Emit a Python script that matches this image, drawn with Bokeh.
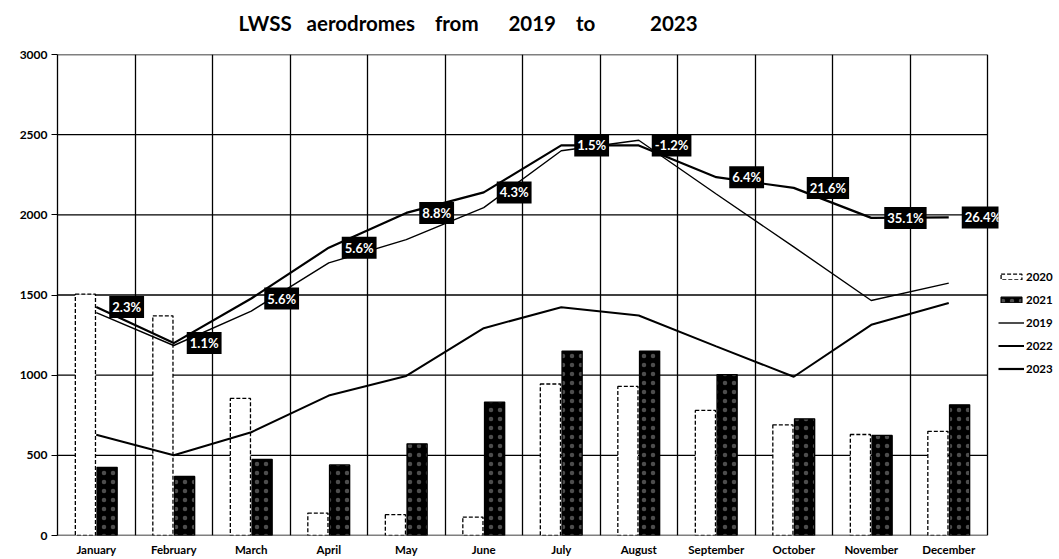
from bokeh.plotting import figure
from bokeh.models import ColumnDataSource, Range1d, FixedTicker, Legend, Title
from bokeh.transform import dodge
from bokeh.core.properties import value
from bokeh.embed import file_html
from bokeh.resources import INLINE

# ---- data ----
months = ["January", "February", "March", "April", "May", "June",
          "July", "August", "September", "October", "November", "December"]
v2020 = [1505, 1370, 855, 140, 130, 115, 945, 930, 780, 690, 630, 650]
v2021 = [425, 368, 475, 440, 572, 832, 1150, 1150, 1004, 728, 624, 815]
v2019 = [1390, 1185, 1400, 1700, 1845, 2045, 2400, 2465, 2130, 1800, 1466, 1574]
v2022 = [628, 500, 644, 873, 995, 1293, 1424, 1372, 1180, 990, 1314, 1450]
v2023 = [1425, 1200, 1478, 1795, 2012, 2140, 2433, 2433, 2235, 2168, 1981, 1984]
pct_labels = ["2.3%", "1.1%", "5.6%", "5.6%", "8.8%", "4.3%",
              "1.5%", "-1.2%", "6.4%", "21.6%", "35.1%", "26.4%"]
y_ticks = [0, 500, 1000, 1500, 2000, 2500, 3000]
SP = "\u00a0"
title_text = ("LWSS" + SP * 3 + "aerodromes" + SP * 4 + "from" + SP * 6 +
              "2019" + SP * 4 + "to" + SP * 11 + "2023")

FONT = "Lato"
n = len(months)
y_min, y_max = y_ticks[0], y_ticks[-1]
grid_px = 930           # width of the gridded area
frame_px = 941          # frame a bit wider so the last data label is not clipped
x_end = n * frame_px / grid_px

centers = [i + 0.5 for i in range(n)]
src = ColumnDataSource(dict(x=centers, month=months, v2020=v2020, v2021=v2021,
                            v2019=v2019, v2022=v2022, v2023=v2023, pct=pct_labels))
hsrc = ColumnDataSource(dict(y=y_ticks, x0=[0] * len(y_ticks), x1=[n] * len(y_ticks)))

p = figure(x_range=Range1d(0, x_end), y_range=Range1d(y_min, y_max),
           frame_width=frame_px, frame_height=481,
           min_border_left=57, min_border_right=61, min_border_top=54, min_border_bottom=24,
           output_backend="svg", toolbar_location=None,
           background_fill_color="white", border_fill_color="white")

p.title.text = title_text
p.title.align = "left"
p.title.offset = 181
p.title.text_font = FONT
p.title.text_font_size = "20.5px"
p.title.text_font_style = "bold"
p.title.text_color = "black"
p.title.vertical_align = "bottom"
p.title.standoff = 0

# blank spacer between the frame and the title
spacer = Title(text=" ", text_font_size="10px", standoff=7)
p.add_layout(spacer, "above")

p.outline_line_color = None

# grid: vertical lines on month boundaries, horizontal lines limited to the months
p.xgrid.ticker = FixedTicker(ticks=list(range(n + 1)))
p.xgrid.grid_line_color = "black"
p.xgrid.grid_line_width = 1.3
p.ygrid.visible = False
p.segment(x0="x0", y0="y", x1="x1", y1="y", source=hsrc,
          line_color="black", line_width=1.3)

# axes
p.yaxis.ticker = FixedTicker(ticks=y_ticks)
p.yaxis.major_label_text_font = FONT
p.yaxis.major_label_text_font_style = "bold"
p.yaxis.major_label_text_font_size = "12px"
p.yaxis.major_label_text_color = "black"
p.yaxis.major_tick_out = 6
p.yaxis.major_tick_in = 0
p.yaxis.minor_tick_line_color = None
p.yaxis.axis_line_color = "black"
p.yaxis.axis_line_width = 1.3
p.yaxis.major_tick_line_color = "black"
p.yaxis.major_label_standoff = 4

p.xaxis.ticker = FixedTicker(ticks=centers)
p.xaxis.major_label_overrides = {c: m for c, m in zip(centers, months)}
p.xaxis.major_label_text_font = FONT
p.xaxis.major_label_text_font_style = "bold"
p.xaxis.major_label_text_font_size = "11.5px"
p.xaxis.major_label_text_color = "black"
p.xaxis.major_tick_line_color = None
p.xaxis.minor_tick_line_color = None
p.xaxis.axis_line_color = None
p.xaxis.major_tick_out = 0
p.xaxis.major_tick_in = 0
p.xaxis.major_label_standoff = 7

# bars
r20 = p.vbar(x=dodge("x", -0.14), top="v2020", width=0.26, source=src,
             fill_color="white", line_color="black", line_dash="4 2", line_width=1.3)
r21 = p.vbar(x=dodge("x", 0.14), top="v2021", width=0.26, source=src,
             fill_color="black", line_color="black", line_width=1.3,
             hatch_pattern="dot", hatch_color="white", hatch_scale=9, hatch_weight=1,
             hatch_alpha=0.3)

# lines
r19 = p.line("x", "v2019", source=src, line_color="black", line_width=1.4)
r22 = p.line("x", "v2022", source=src, line_color="black", line_width=2)
r23 = p.line("x", "v2023", source=src, line_color="black", line_width=2.2)

# data labels on the 2023 line
p.text(x="x", y="v2023", text="pct", source=src, x_offset=13,
       text_align="left", text_baseline="middle", text_color="white",
       text_font=value(FONT), text_font_style="bold", text_font_size="13px",
       background_fill_color="black", padding=3)

legend = Legend(items=[("2020", [r20]), ("2021", [r21]), ("2019", [r19]),
                       ("2022", [r22]), ("2023", [r23])],
                location=(0, 157), border_line_color=None, background_fill_alpha=0,
                padding=0, margin=0, glyph_width=26, glyph_height=7, label_standoff=2,
                spacing=3, label_height=20,
                label_text_font=FONT, label_text_font_style="bold",
                label_text_font_size="11.5px", label_text_color="black")
p.add_layout(legend, "right")

open("out.html", "w").write(file_html(p, INLINE))
